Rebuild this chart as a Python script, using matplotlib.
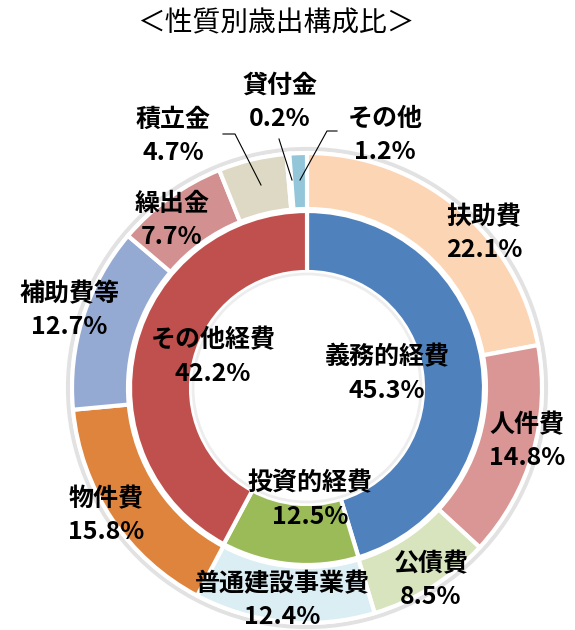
import matplotlib.pyplot as plt
from matplotlib.patches import Circle

plt.rcParams['font.family'] = ['Noto Sans CJK JP', 'DejaVu Sans']

# data
inner_labels = ['義務的経費', '投資的経費', 'その他経費']
inner_values = [45.3, 12.5, 42.2]
inner_colors = ['#4F81BD', '#9BBB59', '#C0504D']

outer_labels = ['扶助費', '人件費', '公債費', '普通建設事業費', '物件費',
                '補助費等', '繰出金', '積立金', '貸付金', 'その他']
outer_values = [22.1, 14.8, 8.5, 12.4, 15.8, 12.7, 7.7, 4.7, 0.2, 1.2]
outer_colors = ['#FCD5B5', '#D99694', '#D7E4BD', '#DBEEF4', '#DF843D',
                '#95AAD3', '#D29090', '#DDD9C4', '#CCC1DA', '#93C6D9']

title = '＜性質別歳出構成比＞'

# label centres in pixels (from top-left)
outer_pos = {
    '扶助費': (484, 233), '人件費': (527, 441), '公債費': (431, 580),
    '普通建設事業費': (282, 600), '物件費': (106, 515), '補助費等': (69, 310),
    '繰出金': (172, 220), '積立金': (173, 136), '貸付金': (280, 102),
    'その他': (385, 135),
}
inner_pos = {'義務的経費': (387, 374), '投資的経費': (310, 500), 'その他経費': (213, 357)}

leaders = [
    [(223, 134), (235, 134), (261, 185)],
    [(279, 139), (292, 180)],
    [(337, 131), (327, 131), (300, 180)],
]

W, H = 575, 630


def py(y):
    return H - y


fig = plt.figure(figsize=(W / 100, H / 100), dpi=100)
ax = fig.add_axes([0, 0, 1, 1])

cx, cy = 307, py(388)

ax.add_patch(Circle((cx, cy), 239, facecolor='white', edgecolor='#e2e2e2', lw=3, zorder=0))

ax.pie(outer_values, radius=235, center=(cx, cy), startangle=90, counterclock=False,
       colors=outer_colors, wedgeprops=dict(width=56, edgecolor='white', linewidth=3))
ax.pie(inner_values, radius=177, center=(cx, cy), startangle=90, counterclock=False,
       colors=inner_colors, wedgeprops=dict(width=61, edgecolor='white', linewidth=3))

ax.add_patch(Circle((cx, cy), 114, facecolor='none', edgecolor='#ededed', lw=2, zorder=3))

for name, val in zip(outer_labels, outer_values):
    x, y = outer_pos[name]
    ax.text(x, py(y - 16), name, ha='center', va='center', fontsize=18, fontweight='bold', zorder=5)
    ax.text(x, py(y + 17), f'{val}%', ha='center', va='center', fontsize=18, fontweight='bold', zorder=5)

for name, val in zip(inner_labels, inner_values):
    x, y = inner_pos[name]
    ax.text(x, py(y - 17), name, ha='center', va='center', fontsize=18, fontweight='bold', zorder=5)
    ax.text(x, py(y + 17), f'{val}%', ha='center', va='center', fontsize=18, fontweight='bold', zorder=5)

for pts in leaders:
    ax.plot([p[0] for p in pts], [py(p[1]) for p in pts], color='black', lw=0.8, zorder=4)

ax.text(276, py(23), title, ha='center', va='center', fontsize=20)

ax.set_xlim(0, W)
ax.set_ylim(0, H)
ax.set_aspect('equal')
ax.axis('off')

fig.savefig('out.png', dpi=100)
